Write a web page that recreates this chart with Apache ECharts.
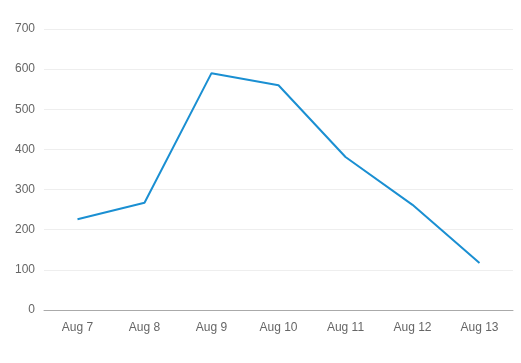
<!DOCTYPE html>
<html>
<head>
<meta charset="utf-8">
<script src="https://cdn.jsdelivr.net/npm/echarts@6/dist/echarts.min.js"></script>
<style>html,body{margin:0;padding:0;background:#fff}#c{width:521px;height:363px}</style>
</head>
<body>
<div id="c"></div>
<script>
var categories = ['Aug 7','Aug 8','Aug 9','Aug 10','Aug 11','Aug 12','Aug 13'];
var values = [226, 267, 590, 560, 381, 262, 117];
var chart = echarts.init(document.getElementById('c'), null, {renderer:'canvas'});
chart.setOption({
  animation: false,
  backgroundColor: '#fff',
  grid: {left: 44, right: 8, top: 29, bottom: 53},
  xAxis: {
    type: 'category',
    data: categories,
    boundaryGap: true,
    axisLine: {lineStyle: {color: '#aaaaaa', width: 1}},
    axisTick: {alignWithLabel: true, length: 4, lineStyle: {color: '#aaaaaa'}},
    axisLabel: {color: '#666', fontFamily: 'Liberation Sans, Arial, sans-serif', fontSize: 12, margin: 12}
  },
  yAxis: {
    type: 'value',
    min: 0, max: 700, interval: 100,
    axisLine: {show: false},
    axisTick: {show: false},
    axisLabel: {color: '#666', fontFamily: 'Liberation Sans, Arial, sans-serif', fontSize: 12, margin: 9},
    splitLine: {lineStyle: {color: '#eeeeee', width: 1}}
  },
  series: [{
    type: 'line',
    data: values,
    symbol: 'none',
    lineStyle: {color: '#1a8fd2', width: 2},
    itemStyle: {color: '#1a8fd2'}
  }]
});
</script>
</body>
</html>
